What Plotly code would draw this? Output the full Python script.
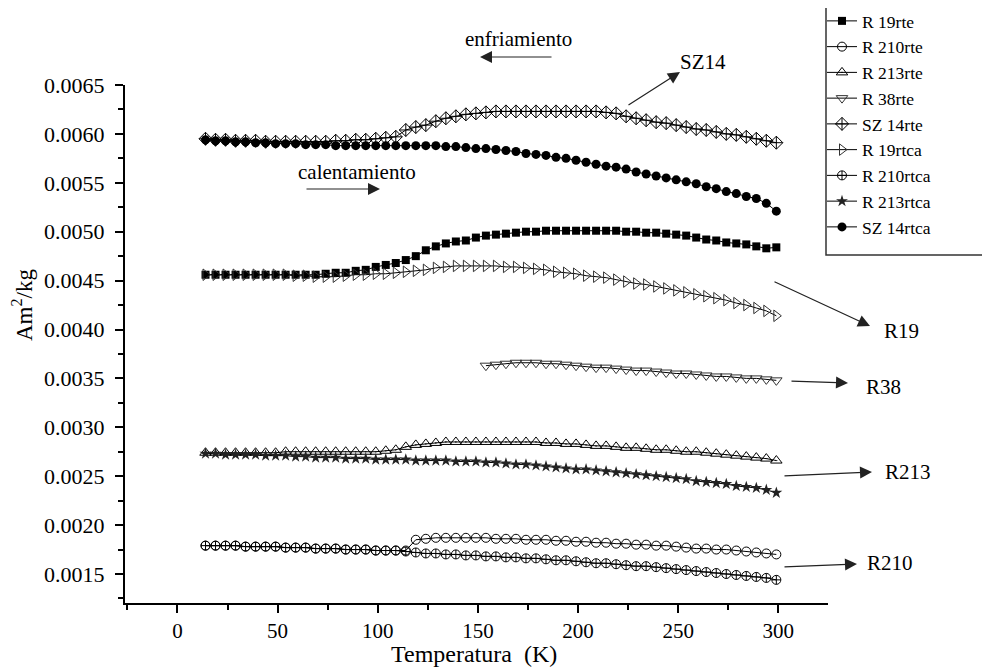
import plotly.graph_objects as go

# ---------------- data ----------------
TEMPS = [14, 19, 24, 29, 34, 39, 44, 49, 54, 59, 64, 69, 74, 79, 84, 89, 94, 99, 104, 109,
         114, 119, 124, 129, 134, 139, 144, 149, 154, 159, 164, 169, 174, 179, 184, 189, 194, 199,
         204, 209, 214, 219, 224, 229, 234, 239, 244, 249, 254, 259, 264, 269, 274, 279, 284, 289,
         294, 299]
TEMPS_R38 = [154, 159, 164, 169, 174, 179, 184, 189, 194, 199, 204, 209, 214, 219, 224, 229,
             234, 239, 244, 249, 254, 259, 264, 269, 274, 279, 284, 289, 294, 299]

R19_RTE = [0.00456, 0.00456, 0.00456, 0.00456, 0.00456, 0.00456, 0.00456, 0.00456, 0.00456, 0.00456,
           0.00456, 0.00456, 0.00457, 0.00458, 0.00458, 0.00460, 0.00461, 0.00464, 0.00466, 0.00468,
           0.00471, 0.00475, 0.00481, 0.00485, 0.00488, 0.00490, 0.00491, 0.00494, 0.00496, 0.00497,
           0.00498, 0.00499, 0.00500, 0.00500, 0.00501, 0.00501, 0.00501, 0.00501, 0.00501, 0.00501,
           0.00501, 0.00501, 0.00500, 0.00500, 0.00499, 0.00499, 0.00498, 0.00497, 0.00496, 0.00494,
           0.00492, 0.00491, 0.00489, 0.00488, 0.00487, 0.00485, 0.00483, 0.00484]
R210_RTE = [0.00179, 0.00179, 0.00179, 0.00179, 0.00178, 0.00178, 0.00178, 0.00178, 0.00177, 0.00177,
            0.00177, 0.00176, 0.00176, 0.00176, 0.00175, 0.00175, 0.00175, 0.00174, 0.00174, 0.00174,
            0.00174, 0.00185, 0.00186, 0.00187, 0.00187, 0.00187, 0.00187, 0.00187, 0.00187, 0.00186,
            0.00186, 0.00186, 0.00185, 0.00185, 0.00185, 0.00184, 0.00184, 0.00183, 0.00183, 0.00182,
            0.00182, 0.00181, 0.00181, 0.00180, 0.00180, 0.00179, 0.00179, 0.00178, 0.00177, 0.00176,
            0.00176, 0.00175, 0.00175, 0.00174, 0.00173, 0.00172, 0.00171, 0.00170]
R213_RTE = [0.00274, 0.00274, 0.00274, 0.00274, 0.00274, 0.00274, 0.00274, 0.00274, 0.00275, 0.00275,
            0.00275, 0.00275, 0.00275, 0.00275, 0.00275, 0.00275, 0.00275, 0.00275, 0.00276, 0.00277,
            0.00280, 0.00282, 0.00283, 0.00284, 0.00285, 0.00285, 0.00285, 0.00285, 0.00285, 0.00285,
            0.00285, 0.00285, 0.00285, 0.00285, 0.00284, 0.00284, 0.00283, 0.00283, 0.00282, 0.00281,
            0.00281, 0.00280, 0.00279, 0.00279, 0.00278, 0.00277, 0.00277, 0.00276, 0.00275, 0.00275,
            0.00274, 0.00273, 0.00272, 0.00271, 0.00270, 0.00269, 0.00268, 0.00266]
R38_RTE = [0.00363, 0.00364, 0.00365, 0.00366, 0.00366, 0.00366, 0.00365, 0.00365, 0.00364, 0.00363,
           0.00362, 0.00361, 0.00361, 0.00360, 0.00359, 0.00358, 0.00358, 0.00357, 0.00356, 0.00355,
           0.00355, 0.00354, 0.00353, 0.00352, 0.00352, 0.00351, 0.00350, 0.00350, 0.00349, 0.00348]
SZ14_RTE = [0.00595, 0.00594, 0.00594, 0.00593, 0.00593, 0.00593, 0.00592, 0.00592, 0.00592, 0.00592,
            0.00592, 0.00592, 0.00592, 0.00593, 0.00593, 0.00594, 0.00594, 0.00595, 0.00596, 0.00597,
            0.00604, 0.00607, 0.00609, 0.00613, 0.00616, 0.00618, 0.00620, 0.00621, 0.00622, 0.00623,
            0.00623, 0.00623, 0.00623, 0.00623, 0.00623, 0.00623, 0.00623, 0.00623, 0.00623, 0.00623,
            0.00622, 0.00621, 0.00618, 0.00616, 0.00614, 0.00612, 0.00611, 0.00609, 0.00607, 0.00605,
            0.00604, 0.00602, 0.00600, 0.00599, 0.00597, 0.00595, 0.00593, 0.00591]
R19_RTCA = [0.00456, 0.00456, 0.00456, 0.00456, 0.00456, 0.00456, 0.00456, 0.00456, 0.00456, 0.00455,
            0.00455, 0.00454, 0.00454, 0.00454, 0.00455, 0.00456, 0.00456, 0.00457, 0.00457, 0.00458,
            0.00459, 0.00460, 0.00461, 0.00463, 0.00464, 0.00465, 0.00465, 0.00465, 0.00465, 0.00465,
            0.00464, 0.00464, 0.00463, 0.00462, 0.00461, 0.00459, 0.00458, 0.00457, 0.00455, 0.00454,
            0.00453, 0.00451, 0.00449, 0.00447, 0.00446, 0.00444, 0.00442, 0.00440, 0.00438, 0.00436,
            0.00434, 0.00432, 0.00430, 0.00427, 0.00425, 0.00422, 0.00419, 0.00414]
R210_RTCA = [0.00179, 0.00179, 0.00179, 0.00179, 0.00178, 0.00178, 0.00178, 0.00178, 0.00177, 0.00177,
             0.00177, 0.00176, 0.00176, 0.00176, 0.00175, 0.00175, 0.00175, 0.00174, 0.00174, 0.00174,
             0.00173, 0.00172, 0.00171, 0.00171, 0.00170, 0.00170, 0.00169, 0.00169, 0.00168, 0.00168,
             0.00167, 0.00167, 0.00166, 0.00166, 0.00165, 0.00164, 0.00164, 0.00163, 0.00162, 0.00161,
             0.00161, 0.00160, 0.00159, 0.00158, 0.00158, 0.00157, 0.00156, 0.00155, 0.00154, 0.00153,
             0.00152, 0.00151, 0.00150, 0.00149, 0.00148, 0.00147, 0.00146, 0.00144]
R213_RTCA = [0.00273, 0.00273, 0.00272, 0.00272, 0.00272, 0.00272, 0.00271, 0.00271, 0.00271, 0.00270,
             0.00270, 0.00269, 0.00269, 0.00269, 0.00268, 0.00268, 0.00268, 0.00267, 0.00267, 0.00267,
             0.00267, 0.00266, 0.00266, 0.00266, 0.00266, 0.00265, 0.00265, 0.00265, 0.00264, 0.00264,
             0.00263, 0.00262, 0.00262, 0.00261, 0.00260, 0.00259, 0.00258, 0.00257, 0.00257, 0.00256,
             0.00255, 0.00254, 0.00253, 0.00252, 0.00251, 0.00250, 0.00249, 0.00248, 0.00247, 0.00245,
             0.00244, 0.00243, 0.00242, 0.00240, 0.00239, 0.00238, 0.00236, 0.00233]
SZ14_RTCA = [0.00594, 0.00593, 0.00593, 0.00592, 0.00592, 0.00591, 0.00591, 0.00590, 0.00590, 0.00590,
             0.00589, 0.00589, 0.00589, 0.00588, 0.00588, 0.00588, 0.00588, 0.00588, 0.00588, 0.00588,
             0.00588, 0.00588, 0.00588, 0.00588, 0.00587, 0.00587, 0.00586, 0.00585, 0.00585, 0.00584,
             0.00583, 0.00582, 0.00580, 0.00579, 0.00578, 0.00576, 0.00575, 0.00573, 0.00571, 0.00569,
             0.00567, 0.00566, 0.00564, 0.00561, 0.00559, 0.00557, 0.00555, 0.00553, 0.00551, 0.00549,
             0.00546, 0.00544, 0.00541, 0.00539, 0.00536, 0.00534, 0.00529, 0.00521]

SERIES_NAMES = ["R 19rte", "R 210rte", "R 213rte", "R 38rte", "SZ 14rte",
                "R 19rtca", "R 210rtca", "R 213rtca", "SZ 14rtca"]

X_TICKS = [0, 50, 100, 150, 200, 250, 300]
Y_TICKS = [0.0015, 0.0020, 0.0025, 0.0030, 0.0035, 0.0040, 0.0045, 0.0050, 0.0055, 0.0060, 0.0065]
X_TITLE = "Temperatura  (K)"
Y_TITLE = "Am<sup>2</sup>/kg"

# ---------------- styling ----------------
FONT = "Liberation Serif, Times New Roman, serif"
OFF = 8                      # page body margin of the html page
W, H = 990 - OFF, 668 - OFF
PL, PR, PT, PB = 125, 828, 85, 603   # plot area in page pixels
L, T = PL - OFF, PT - OFF
R, B = W - (PR - OFF), H - (PB - OFF)
PW, PH = W - L - R, H - T - B

series = [
    (TEMPS, R19_RTE, dict(symbol="square", size=8, color="black", line=dict(width=0))),
    (TEMPS, R210_RTE, dict(symbol="circle-open", size=9, color="black", line=dict(width=1))),
    (TEMPS, R213_RTE, dict(symbol="triangle-up-open-dot", size=10, color="black", line=dict(width=1))),
    (TEMPS_R38, R38_RTE, dict(symbol="triangle-down-open", size=10, color="#333", line=dict(width=1))),
    (TEMPS, SZ14_RTE, dict(symbol="diamond-cross-open", size=10, color="black", line=dict(width=1))),
    (TEMPS, R19_RTCA, dict(symbol="triangle-right-open", size=10, color="#333", line=dict(width=1))),
    (TEMPS, R210_RTCA, dict(symbol="circle-cross-open", size=9, color="black", line=dict(width=1))),
    (TEMPS, R213_RTCA, dict(symbol="star", size=9, color="#222", line=dict(width=0))),
    (TEMPS, SZ14_RTCA, dict(symbol="circle", size=9, color="black", line=dict(width=0))),
]

fig = go.Figure()
for name, (xs, ys, mk) in zip(SERIES_NAMES, series):
    fig.add_trace(go.Scatter(x=xs, y=ys, name=name, mode="lines+markers",
                             line=dict(color="black", width=1), marker=mk))


def px(xp, yp):
    """page pixel -> paper coordinates"""
    return (xp - PL) / PW, (PB - yp) / PH


annotations = []
arrows = [((553, 57), (480, 57)), ((627, 106), (680, 72)), ((305, 189), (380, 189)),
          ((773, 281), (870, 326)), ((790, 381), (848, 383)), ((783, 476), (872, 472)),
          ((783, 567), (857, 564))]
for (tx, ty), (hx, hy) in arrows:
    x, y = px(hx, hy)
    annotations.append(dict(x=x, y=y, xref="paper", yref="paper", text="", showarrow=True,
                            ax=tx - hx, ay=ty - hy, axref="pixel", ayref="pixel",
                            arrowhead=2, arrowsize=2.0, arrowwidth=1.2, arrowcolor="#222"))
labels = [("enfriamiento", 518, 39), ("SZ14", 703, 62), ("calentamiento", 357, 172),
          ("R19", 901, 331), ("R38", 883, 387), ("R213", 908, 472), ("R210", 890, 563)]
for text, lx, ly in labels:
    x, y = px(lx, ly)
    annotations.append(dict(x=x, y=y, xref="paper", yref="paper", text=text, showarrow=False,
                            xanchor="center", yanchor="middle",
                            font=dict(family=FONT, size=21, color="black")))
# axis titles
x, y = px(474, 654)
annotations.append(dict(x=x, y=y, xref="paper", yref="paper", text=X_TITLE, showarrow=False,
                        xanchor="center", yanchor="middle", borderpad=0,
                        font=dict(family=FONT, size=24, color="black")))
x, y = px(22, 305)
annotations.append(dict(x=x, y=y, xref="paper", yref="paper", text=Y_TITLE, showarrow=False,
                        xanchor="center", yanchor="middle", textangle=-90, borderpad=0,
                        font=dict(family=FONT, size=23, color="black")))

# legend frame (extends past the right edge like the reference)
x0, y0 = px(826, 5)
x1, y1 = px(1000, 255)
shapes = [dict(type="rect", xref="paper", yref="paper", x0=x0, y0=y1, x1=x1, y1=y0,
               line=dict(color="#333", width=1.5), fillcolor="rgba(0,0,0,0)", layer="above")]

lx, ly = px(822, 3)
fig.update_layout(
    width=W, height=H,
    margin=dict(l=L, r=R, t=T, b=B, autoexpand=False),
    paper_bgcolor="white", plot_bgcolor="white",
    font=dict(family=FONT, size=20, color="black"),
    showlegend=True,
    legend=dict(x=lx, y=ly, xanchor="left", yanchor="top",
                borderwidth=0, bgcolor="rgba(0,0,0,0)",
                font=dict(family=FONT, size=17.5, color="black"),
                itemwidth=30, tracegroupgap=0),
    annotations=annotations,
    shapes=shapes,
    xaxis=dict(range=[-26.2, 324.8], tickvals=X_TICKS, ticktext=[str(v) for v in X_TICKS],
               showline=True, linecolor="black", linewidth=2, ticks="outside",
               ticklen=8, tickwidth=1.5, tickcolor="black", showgrid=False, zeroline=False,
               minor=dict(dtick=25, tick0=0, ticks="outside", ticklen=5, tickwidth=1.5,
                          tickcolor="black", showgrid=False),
               tickfont=dict(family=FONT, size=21)),
    yaxis=dict(range=[0.0012034, 0.0065], tickvals=Y_TICKS,
               ticktext=[f"{v:.4f}" for v in Y_TICKS],
               showline=True, linecolor="black", linewidth=2, ticks="outside",
               ticklen=8, tickwidth=1.5, tickcolor="black", showgrid=False, zeroline=False,
               ticklabelstandoff=6,
               minor=dict(dtick=0.0005, tick0=0.00025, ticks="outside", ticklen=5, tickwidth=1.5,
                          tickcolor="black", showgrid=False),
               tickfont=dict(family=FONT, size=22)),
)

fig.write_html("out.html")
